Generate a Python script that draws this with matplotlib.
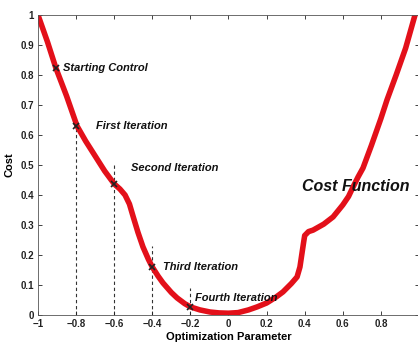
import matplotlib
matplotlib.use("Agg")
import matplotlib.pyplot as plt

# Cost curve
curve_x = [-1.0, -0.95, -0.906, -0.85, -0.795, -0.75, -0.70, -0.65, -0.60, -0.57, -0.543,
           -0.52, -0.50, -0.475, -0.449, -0.42, -0.40, -0.37, -0.344, -0.30, -0.27, -0.23,
           -0.20, -0.15, -0.097, -0.05, 0.0, 0.05, 0.105, 0.15, 0.20, 0.25, 0.286, 0.33, 0.36,
           0.375, 0.386, 0.395, 0.40, 0.42, 0.444, 0.50, 0.549, 0.60, 0.63, 0.654, 0.68, 0.706,
           0.75, 0.80, 0.832, 0.88, 0.93, 0.979]
curve_y = [1.0, 0.91, 0.823, 0.73, 0.63, 0.58, 0.53, 0.48, 0.437, 0.42, 0.40,
           0.37, 0.327, 0.275, 0.227, 0.185, 0.16, 0.13, 0.107, 0.075, 0.057, 0.038,
           0.027, 0.017, 0.01, 0.007, 0.006, 0.008, 0.017, 0.027, 0.04, 0.06, 0.077, 0.105, 0.127,
           0.16, 0.207, 0.245, 0.265, 0.278, 0.283, 0.303, 0.327, 0.367, 0.395, 0.427, 0.46, 0.49,
           0.565, 0.655, 0.717, 0.80, 0.89, 1.0]

# Iteration markers
mark_x = [-0.906, -0.8, -0.6, -0.4, -0.2]
mark_y = [0.823, 0.63, 0.437, 0.16, 0.027]

# Dashed guide lines
guide_x = [-0.8, -0.6, -0.4, -0.2]
guide_top = [0.63, 0.50, 0.23, 0.09]

labels = ["Starting Control", "First Iteration", "Second Iteration", "Third Iteration", "Fourth Iteration"]
label_x = [-0.869, -0.696, -0.512, -0.344, -0.176]
label_y = [0.823, 0.63, 0.49, 0.16, 0.057]

xticks = [-1, -0.8, -0.6, -0.4, -0.2, 0, 0.2, 0.4, 0.6, 0.8, 1]
xticklabels = ["\u22121", "\u22120.8", "\u22120.6", "\u22120.4", "\u22120.2", "0", "0.2", "0.4", "0.6", "0.8", ""]
yticks = [0, 0.1, 0.2, 0.3, 0.4, 0.5, 0.6, 0.7, 0.8, 0.9, 1]
yticklabels = ["0", "0.1", "0.2", "0.3", "0.4", "0.5", "0.6", "0.7", "0.8", "0.9", "1"]

plt.rcParams['font.family'] = ['Liberation Sans', 'DejaVu Sans']
fig = plt.figure(figsize=(4.18, 3.43), dpi=100)
ax = fig.add_axes([0.0909, 0.0816, 0.9115, 0.8746])

for gx, gt in zip(guide_x, guide_top):
    ax.plot([gx, gx], [0, gt], linestyle=(0, (3, 2.5)), color='#333333', linewidth=0.8, zorder=1)

ax.plot(curve_x, curve_y, color='#e3101a', linewidth=4.0, solid_capstyle='round',
        solid_joinstyle='round', zorder=2)
ax.plot(mark_x, mark_y, linestyle='none', marker='x', color='#222222', markersize=4,
        markeredgewidth=1.2, zorder=3)

for t, lx, ly in zip(labels, label_x, label_y):
    ax.text(lx, ly, t, fontsize=8, fontweight='bold', fontstyle='italic', va='center',
            ha='left', color='#111111', zorder=4)
ax.text(0.386, 0.43, "Cost Function", fontsize=11.5, fontweight='bold', fontstyle='italic',
        va='center', ha='left', color='#111111', zorder=4)

ax.set_xlim(-1, 1)
ax.set_ylim(0, 1)
ax.set_xticks(xticks)
ax.set_xticklabels(xticklabels)
ax.set_yticks(yticks)
ax.set_yticklabels(yticklabels)
ax.tick_params(direction='in', length=3, width=0.6, top=True, right=True, labelsize=7,
               pad=3, colors='#222222')
for lab in ax.get_xticklabels() + ax.get_yticklabels():
    lab.set_fontweight('bold')
for s in ax.spines.values():
    s.set_linewidth(0.6)
    s.set_color('#555555')

ax.set_xlabel("Optimization Parameter", fontsize=8, fontweight='bold', labelpad=2)
ax.set_ylabel("Cost", fontsize=8, fontweight='bold', labelpad=4)

fig.savefig("out.png", dpi=100)
